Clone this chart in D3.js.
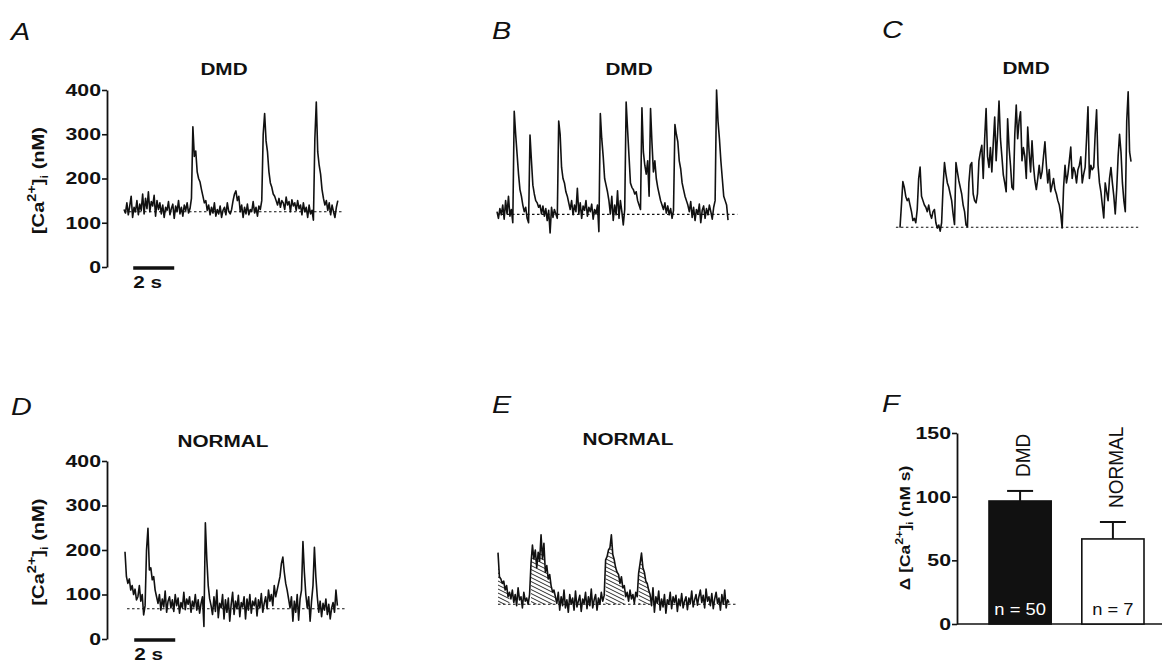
<!DOCTYPE html>
<html>
<head>
<meta charset="utf-8">
<script src="https://cdn.jsdelivr.net/npm/d3@7"></script>
<style>
  body { margin: 0; background: #fff; }
  text { font-family: "Liberation Sans", Arial, sans-serif; fill: #111; }
</style>
</head>
<body>
<div id="chart"></div>
<script>
// sample interval of the traces, seconds
const dt = 0.07

// [Ca2+]i traces in nM
const traceA = [130,122,145,118,138,160,112,135,125,150,
  118,142,128,165,120,155,132,170,125,148,
  138,162,115,150,130,145,120,140,112,135,
  128,148,118,132,142,110,138,125,150,120,
  135,115,140,128,145,122,132,155,317,250,
  262,215,200,192,175,160,145,150,128,140,
  118,135,122,145,115,130,120,138,112,128,
  135,118,145,125,120,130,150,165,172,150,
  160,125,140,112,135,120,142,118,130,125,
  148,122,135,115,138,130,150,300,347,285,
  260,215,190,180,165,160,150,140,155,135,
  150,145,130,158,140,148,125,152,138,145,
  128,150,132,140,118,145,125,135,112,140,
  120,128,106,290,373,260,230,210,175,155,
  140,150,128,145,118,140,125,112,135,150]

const traceB = [125,110,132,118,140,108,150,120,160,115,130,100,
  352,300,255,210,175,160,140,125,135,110,100,
  298,240,185,165,150,145,135,140,120,138,
  115,132,105,128,77,135,112,130,120,110,
  330,300,225,200,190,170,160,145,130,150,
  118,140,125,178,120,145,110,138,128,150,115,135,125,142,108,130,120,140,80,
  347,290,250,200,185,170,150,120,160,105,
  140,118,172,110,150,125,95,130,
  373,310,250,190,180,175,165,170,150,140,130,
  360,260,230,210,240,160,
  358,280,215,240,200,180,165,150,140,
  130,145,122,138,118,132,110,128,
  322,300,283,240,222,190,175,160,150,140,
  125,148,112,135,105,130,120,142,100,128,138,110,132,118,140,125,108,135,150,
  400,330,290,240,200,160,150,140,106]

const traceC = [89,140,193,180,160,150,155,140,125,105,
  110,100,130,200,226,160,150,140,135,125,
  140,120,110,125,130,100,88,95,81,100,
  180,236,210,190,180,165,150,120,96,236,
  215,195,180,165,140,125,95,91,190,230,
  236,165,150,145,165,240,260,275,200,290,
  358,250,225,270,215,280,339,240,300,375,
  290,250,208,190,170,335,270,230,180,175,
  300,366,290,330,351,240,270,250,200,316,
  260,215,285,230,195,175,200,230,200,215,
  250,283,230,190,220,170,185,200,175,165,
  150,140,120,88,180,230,190,210,240,271,
  200,225,215,190,220,230,249,190,210,225,
  290,362,200,230,220,225,300,355,230,190,
  170,140,111,190,170,150,200,225,190,160,
  120,175,250,300,260,190,150,125,330,396,
  260,238]

const traceD = [196,140,125,135,110,120,100,112,88,95,120,85,100,54,75,
  200,249,155,160,133,140,110,95,
  80,100,65,90,72,108,60,85,95,70,88,62,100,75,92,58,82,70,105,66,90,78,95,60,85,72,100,65,88,58,80,95,28,
  261,180,120,90,
  75,55,95,62,110,48,80,70,100,45,88,60,92,40,78,105,55,85,68,98,
  50,82,72,95,45,90,65,100,58,85,75,92,52,88,70,102,60,80,95,68,
  110,85,100,75,120,95,110,125,140,
  170,184,150,125,110,90,
  70,95,40,85,60,100,42,90,110,
  219,150,100,70,95,40,85,120,
  206,140,95,60,85,50,80,65,90,55,78,45,70,82,60,110,75]

const traceE = [194,140,135,125,130,110,120,95,105,90,
  110,82,100,75,115,88,95,70,105,85,92,78,100,
  170,211,180,200,160,195,175,234,180,215,150,165,135,145,120,106,110,95,
  80,105,65,95,75,110,70,88,60,100,78,92,65,108,72,85,98,62,90,80,
  105,68,95,75,112,70,88,100,65,92,78,105,85,98,
  178,185,200,205,234,190,178,160,150,145,125,140,115,120,
  95,105,85,110,90,100,80,105,95,
  148,170,193,160,150,130,125,110,100,
  75,115,60,95,80,108,65,90,72,100,58,88,78,105,68,95,82,98,62,90,
  75,102,70,85,95,66,92,80,108,72,88,100,76,95,110,82,98,70,112,85,
  95,75,102,68,90,105,80,92,65,100,78,110,70,88,82]

// resting level (dotted line) of each trace, nM
const baseA = 125
const baseB = 119
const baseC = 90
const baseD = 68
const baseE = 78

// sample ranges of E that are hatched (area above rest)
const hatchE = [[0, 8], [23, 40], [75, 88], [98, 106]]

const traceTicks = [0, 100, 200, 300, 400]

// panel F
const barCats = ['DMD', 'NORMAL']
const barMeans = [96.6, 66.8]
const barErrs = [7.9, 13.3]
const barN = ['n = 50', 'n = 7']
const barTicks = [0, 50, 100, 150]

const W = 1163, H = 663

const svg = d3.select('#chart')
  .append('svg')
  .attr('width', W)
  .attr('height', H)

const pat = svg.append('defs').append('pattern')
  .attr('id', 'hatch')
  .attr('patternUnits', 'userSpaceOnUse')
  .attr('width', 8)
  .attr('height', 4)
pat.append('path')
  .attr('d', 'M-8,-4 L16,8 M-8,0 L8,8 M0,-4 L16,4')
  .attr('stroke', '#111')
  .attr('stroke-width', 0.9)

// text helper, sx widens the glyphs like the figure's font
function txt(parent, x, y, s, o = {}) {
  const t = parent.append('text')
    .attr('transform', `translate(${x},${y}) rotate(${o.rot || 0}) scale(${o.sx || 1},1)`)
    .attr('text-anchor', o.anchor || 'start')
    .style('font-size', (o.size || 16) + 'px')
    .style('font-weight', o.bold ? 'bold' : 'normal')
    .style('font-style', o.italic ? 'italic' : 'normal')
    .text(s)
  if (o.fill) t.style('fill', o.fill)
  return t
}

function caLabel(parent, x, y, size, sx, prefix, suffix) {
  const t = parent.append('text')
    .attr('transform', `translate(${x},${y}) rotate(-90) scale(${sx},1)`)
    .attr('text-anchor', 'middle')
    .style('font-size', size + 'px')
    .style('font-weight', 'bold')
  t.append('tspan').text(prefix + '[Ca')
  t.append('tspan').attr('dy', -0.5 * size).style('font-size', 0.72 * size + 'px').text('2+')
  t.append('tspan').attr('dy', 0.5 * size).text(']')
  t.append('tspan').attr('dy', 0.22 * size).style('font-size', 0.62 * size + 'px').text('i')
  t.append('tspan').attr('dy', -0.22 * size).text(suffix)
}

function styleAxis(g) {
  g.attr('font-family', null).attr('font-size', null)
  g.select('.domain').attr('stroke', '#111').attr('stroke-width', 1.8)
  g.selectAll('.tick line').attr('stroke', '#111').attr('stroke-width', 1.6)
  g.selectAll('.tick text')
    .attr('x', null)
    .attr('transform', 'translate(-6,0) scale(1.25,1)')
    .style('font-size', '17px')
    .style('font-weight', 'bold')
}

function tracePanel(o) {
  const g = svg.append('g')
  const x = d3.scaleLinear().domain([0, 11.5]).range([o.x0, o.x0 + 11.5 * 20.5])
  const y = d3.scaleLinear().domain([0, 400]).range(o.yRange)
  const tEnd = (o.data.length - 1) * dt

  txt(g, o.lx, o.ly, o.letter, { size: 23, italic: true, sx: 1.25 })
  txt(g, o.tx, o.ty, o.title, { size: 17, bold: true, sx: 1.22, anchor: 'middle' })

  if (o.hatch) {
    const area = d3.area()
      .x(d => x(d.i * dt))
      .y0(y(o.base))
      .y1(d => y(Math.max(d.v, o.base)))
    o.hatch.forEach(([a, b]) => {
      const seg = o.data.slice(a, b + 1).map((v, k) => ({ i: a + k, v }))
      g.append('path').attr('d', area(seg)).attr('fill', 'url(#hatch)')
    })
  }

  g.append('line')
    .attr('x1', x(o.dash[0])).attr('x2', x(tEnd + o.dash[1]))
    .attr('y1', y(o.base)).attr('y2', y(o.base))
    .attr('stroke', '#111').attr('stroke-width', 1.1)
    .attr('stroke-dasharray', '2.5,2.5')

  const line = d3.line()
    .x((d, i) => x(i * dt))
    .y(d => y(d))
  g.append('path')
    .attr('d', line(o.data))
    .attr('fill', 'none')
    .attr('stroke', '#111')
    .attr('stroke-width', 1.6)
    .attr('stroke-linejoin', 'round')

  if (o.axis) {
    const ax = g.append('g')
      .attr('transform', `translate(${o.axisX},0)`)
      .call(d3.axisLeft(y).tickValues(traceTicks).tickSize(5).tickSizeOuter(0).tickFormat(d3.format('d')))
    styleAxis(ax)
    caLabel(g, 44, (y(0) + y(400)) / 2 + 2, 16.5, 1.22, '', ' (nM)')

    // 2 s scale bar
    const sb = [0.45, 2.45]
    g.append('line')
      .attr('x1', x(sb[0])).attr('x2', x(sb[1]))
      .attr('y1', y(0) + 1).attr('y2', y(0) + 1)
      .attr('stroke', '#111').attr('stroke-width', 3.5)
    txt(g, x(sb[0]), y(0) + 21, '2 s', { size: 17, bold: true, sx: 1.22 })
  }
}

tracePanel({ data: traceA, base: baseA, x0: 124, yRange: [267, 90], letter: 'A', lx: 11, ly: 40,
  title: 'DMD', tx: 224, ty: 75, axis: true, axisX: 107, dash: [0, 0.25] })
tracePanel({ data: traceB, base: baseB, x0: 497, yRange: [267, 90], letter: 'B', lx: 492, ly: 39,
  title: 'DMD', tx: 629, ty: 75, dash: [0, 0.45] })
tracePanel({ data: traceC, base: baseC, x0: 900, yRange: [267, 90], letter: 'C', lx: 882, ly: 38,
  title: 'DMD', tx: 1026, ty: 74, dash: [-0.2, 0.35] })
tracePanel({ data: traceD, base: baseD, x0: 125, yRange: [639, 461], letter: 'D', lx: 11, ly: 415,
  title: 'NORMAL', tx: 223, ty: 447, axis: true, axisX: 107, dash: [0.1, 0.45] })
tracePanel({ data: traceE, base: baseE, x0: 498, yRange: [639, 461], letter: 'E', lx: 492, ly: 413,
  title: 'NORMAL', tx: 628, ty: 445, hatch: hatchE, dash: [0, 0.4] })

// panel F: bar chart
const gF = svg.append('g')
const xF = d3.scaleBand().domain(barCats).range([989, 1144]).paddingInner(0.33).paddingOuter(0)
const yF = d3.scaleLinear().domain([0, 150]).range([624, 433])

txt(gF, 882, 412, 'F', { size: 23, italic: true, sx: 1.25 })

gF.append('line')
  .attr('x1', 957).attr('x2', 1162)
  .attr('y1', yF(0)).attr('y2', yF(0))
  .attr('stroke', '#111').attr('stroke-width', 1.6)

const axF = gF.append('g')
  .attr('transform', 'translate(957,0)')
  .call(d3.axisLeft(yF).tickValues(barTicks).tickSize(5).tickSizeOuter(0))
styleAxis(axF)

caLabel(gF, 910, 528, 14.5, 1.2, '\u0394 ', ' (nM s)')

// error bars
barCats.forEach((c, i) => {
  const cx = xF(c) + xF.bandwidth() / 2
  gF.append('line')
    .attr('x1', cx).attr('x2', cx)
    .attr('y1', yF(barMeans[i])).attr('y2', yF(barMeans[i] + barErrs[i]))
    .attr('stroke', '#111').attr('stroke-width', 2)
  gF.append('line')
    .attr('x1', cx - 13).attr('x2', cx + 13)
    .attr('y1', yF(barMeans[i] + barErrs[i])).attr('y2', yF(barMeans[i] + barErrs[i]))
    .attr('stroke', '#111').attr('stroke-width', 2)
})

gF.selectAll('rect.bar')
  .data(barCats)
  .enter()
  .append('rect')
  .attr('class', 'bar')
  .attr('x', d => xF(d))
  .attr('width', xF.bandwidth())
  .attr('y', (d, i) => yF(barMeans[i]))
  .attr('height', (d, i) => yF(0) - yF(barMeans[i]))
  .attr('fill', (d, i) => i === 0 ? '#111' : '#fff')
  .attr('stroke', '#111')
  .attr('stroke-width', 1.6)

barCats.forEach((c, i) => {
  const cx = xF(c) + xF.bandwidth() / 2
  const top = yF(barMeans[i] + barErrs[i])
  txt(gF, cx + 10, top - 14, c, { size: 20, rot: -90, sx: 0.95 })
  txt(gF, cx, 615, barN[i], { size: 17, sx: 1.08, anchor: 'middle', fill: i === 0 ? '#fff' : '#111' })
})
</script>
</body>
</html>
